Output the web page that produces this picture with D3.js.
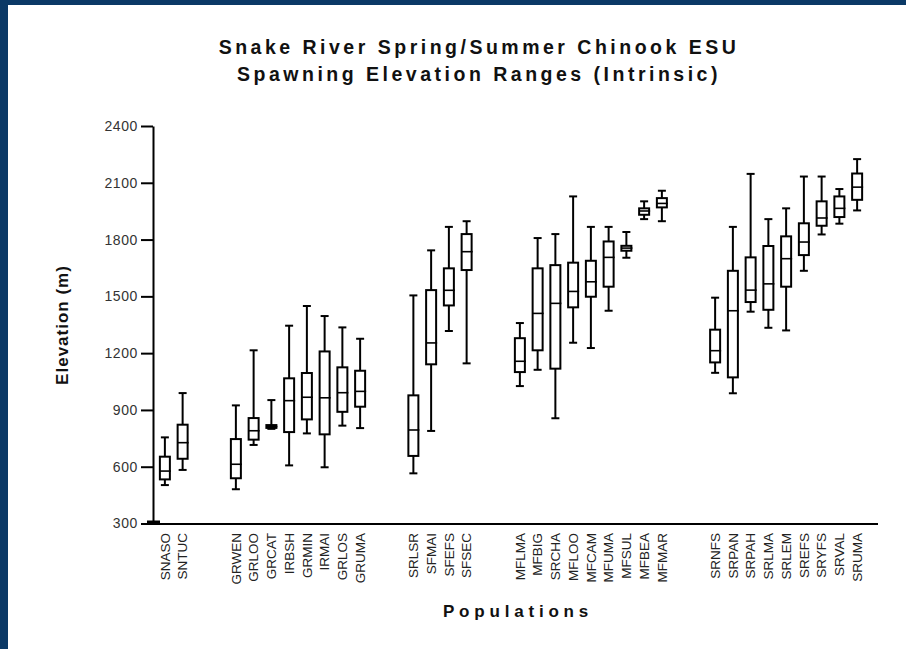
<!DOCTYPE html>
<html><head><meta charset="utf-8">
<script src="https://cdn.jsdelivr.net/npm/d3@7"></script>
<style>
html,body{margin:0;padding:0;background:#0b3966;}
svg{display:block;}
text{font-family:'Liberation Sans', Arial, sans-serif;}
</style></head>
<body>
<svg id="chart" width="906" height="649"></svg>
<script>
// Categories (blank slots "_gN" separate the groups)
const slots = ["SNASO","SNTUC","_g1","_g2",
  "GRWEN","GRLOO","GRCAT","IRBSH","GRMIN","IRMAI","GRLOS","GRUMA","_g3","_g4",
  "SRLSR","SFMAI","SFEFS","SFSEC","_g5","_g6",
  "MFLMA","MFBIG","SRCHA","MFLOO","MFCAM","MFUMA","MFSUL","MFBEA","MFMAR","_g7","_g8",
  "SRNFS","SRPAN","SRPAH","SRLMA","SRLEM","SREFS","SRYFS","SRVAL","SRUMA"];
const populations = slots.filter(s => !s.startsWith("_"));
const minVals    = [503,583, 481,715,800,607,776,597,817,804, 565,789,1317,1146, 1026,1112,856,1255,1227,1424,1704,1908,1897, 1096,988,1419,1334,1320,1635,1827,1884,1954];
const q1Vals     = [533,642, 539,743,805,783,850,771,890,917, 657,1141,1452,1639, 1100,1215,1118,1442,1498,1551,1741,1931,1970, 1151,1072,1470,1429,1551,1718,1873,1919,2010];
const medianVals = [577,727, 613,790,812,949,967,964,991,998, 794,1254,1532,1736, 1157,1410,1463,1526,1577,1706,1755,1951,1991, 1213,1424,1533,1566,1699,1787,1914,1965,2077];
const q3Vals     = [653,822, 746,857,820,1067,1095,1209,1125,1107, 977,1533,1648,1829, 1279,1648,1665,1678,1688,1790,1767,1965,2019, 1324,1635,1706,1766,1817,1886,2002,2028,2149];
const maxVals    = [755,989, 924,1215,952,1345,1449,1396,1336,1276, 1505,1743,1867,1897, 1359,1808,1829,2028,1867,1867,1840,2002,2058, 1493,1867,2147,1908,1965,2133,2133,2067,2225];
const yTicks = [300,600,900,1200,1500,1800,2100,2400];
const titleLines = ["Snake River Spring/Summer Chinook ESU","Spawning Elevation Ranges (Intrinsic)"];

const svg = d3.select("#chart");
svg.append("rect").attr("x",8).attr("y",5).attr("width",898).attr("height",644).attr("fill","#fff");

const x = d3.scaleBand().domain(slots).range([156,866]).paddingInner(0).paddingOuter(0);
const y = d3.scaleLinear().domain([300,2400]).range([523.5,126]);

// title
svg.append("g").selectAll("text").data(titleLines).join("text")
  .attr("x",479).attr("y",(d,i)=>54+i*27)
  .attr("text-anchor","middle")
  .attr("font-weight","bold").attr("font-size",19.5).attr("letter-spacing",3.5)
  .attr("fill","#111").text(d=>d);

// y axis
const yAxis = svg.append("g").attr("transform","translate(153,0)")
  .call(d3.axisLeft(y).tickValues(yTicks).tickFormat(d3.format("d")).tickSize(12).tickPadding(3).tickSizeOuter(0));
yAxis.select(".domain").attr("stroke","#000").attr("stroke-width",2);
yAxis.selectAll(".tick line").attr("stroke","#000").attr("stroke-width",2);
yAxis.selectAll(".tick text").attr("font-size",14).attr("letter-spacing",0.6).attr("fill","#333");
// thick origin marker
yAxis.selectAll(".tick").filter(d=>d===300).append("line")
  .attr("x1",-6).attr("x2",7).attr("y1",-1.5).attr("y2",-1.5).attr("stroke","#000").attr("stroke-width",4);

// x axis
const xAxis = svg.append("g").attr("transform","translate(0,524)")
  .call(d3.axisBottom(x).tickValues(populations).tickSize(0).tickPadding(6));
xAxis.select(".domain").remove();
svg.append("line").attr("x1",152).attr("x2",878).attr("y1",524).attr("y2",524)
  .attr("stroke","#000").attr("stroke-width",2);
xAxis.selectAll(".tick text")
  .attr("font-size",13.5).attr("fill","#222")
  .attr("transform","rotate(-90)").attr("text-anchor","end")
  .attr("x",-9).attr("y",0).attr("dy","0.35em");

// axis titles
svg.append("text").attr("transform","translate(68,325) rotate(-90)")
  .attr("text-anchor","middle")
  .attr("font-weight","bold").attr("font-size",17).attr("letter-spacing",1).attr("fill","#111").text("Elevation (m)");
svg.append("text").attr("x",518).attr("y",617)
  .attr("text-anchor","middle")
  .attr("font-weight","bold").attr("font-size",17).attr("letter-spacing",4.8).attr("fill","#111").text("Populations");

// boxes
const data = populations.map((p,i)=>({p,min:minVals[i],q1:q1Vals[i],med:medianVals[i],q3:q3Vals[i],max:maxVals[i]}));
const bw = 10, cw = 8;
const g = svg.append("g").selectAll("g").data(data).join("g")
  .attr("transform",d=>`translate(${x(d.p)+x.bandwidth()/2},0)`);
g.append("line").attr("y1",d=>y(d.max)).attr("y2",d=>y(d.q3)).attr("stroke","#000").attr("stroke-width",2);
g.append("line").attr("y1",d=>y(d.q1)).attr("y2",d=>y(d.min)).attr("stroke","#000").attr("stroke-width",2);
g.append("line").attr("x1",-cw/2).attr("x2",cw/2).attr("y1",d=>y(d.max)).attr("y2",d=>y(d.max)).attr("stroke","#000").attr("stroke-width",2);
g.append("line").attr("x1",-cw/2).attr("x2",cw/2).attr("y1",d=>y(d.min)).attr("y2",d=>y(d.min)).attr("stroke","#000").attr("stroke-width",2);
g.append("rect").attr("x",-bw/2).attr("width",bw)
  .attr("y",d=>y(d.q3)).attr("height",d=>Math.max(0.5,y(d.q1)-y(d.q3)))
  .attr("fill","#fff").attr("stroke","#000").attr("stroke-width",2);
g.append("line").attr("x1",-bw/2).attr("x2",bw/2+1).attr("y1",d=>y(d.med)).attr("y2",d=>y(d.med)).attr("stroke","#000").attr("stroke-width",1.6);
</script>
</body></html>
